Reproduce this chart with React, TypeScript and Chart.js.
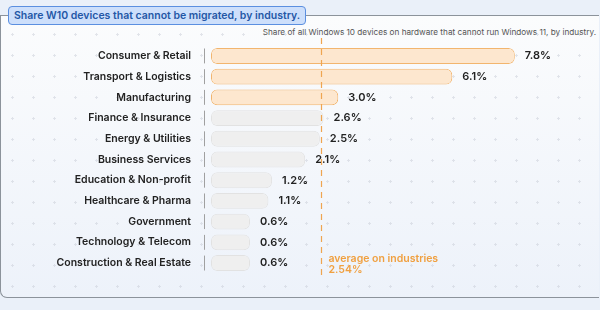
import React, { useEffect, useRef } from "react";
import { Chart, registerables } from "chart.js";

Chart.register(...registerables);

const categories = [
  "Consumer & Retail",
  "Transport & Logistics",
  "Manufacturing",
  "Finance & Insurance",
  "Energy & Utilities",
  "Business Services",
  "Education & Non-profit",
  "Healthcare & Pharma",
  "Government",
  "Technology & Telecom",
  "Construction & Real Estate",
];
const shares = [7.8, 6.1, 3.0, 2.6, 2.5, 2.1, 1.2, 1.1, 0.6, 0.6, 0.6];
const valueLabels = ["7.8%", "6.1%", "3.0%", "2.6%", "2.5%", "2.1%", "1.2%", "1.1%", "0.6%", "0.6%", "0.6%"];
const highlighted = [true, true, true, false, false, false, false, false, false, false, false];
const average = 2.54;
const averageLabel = ["average on industries", "2.54%"];
const title = "Share W10 devices that cannot be migrated, by industry.";
const subtitle = "Share of all Windows 10 devices on hardware that cannot run Windows 11, by industry.";

const FONT = "Inter, 'Noto Sans', sans-serif";
const AXIS_MIN = -0.46;

export default function App() {
  const canvasRef = useRef<HTMLCanvasElement | null>(null);

  useEffect(() => {
    document.body.style.margin = "0";
    const canvas = canvasRef.current;
    if (!canvas) return;

    const overlay = {
      id: "overlay",
      afterDatasetsDraw(chart: any) {
        const ctx = chart.ctx;
        const x = chart.scales.x;
        const y = chart.scales.y;
        const meta = chart.getDatasetMeta(0);
        ctx.save();
        // row separators left of bars
        ctx.strokeStyle = "#a0a0a0";
        ctx.lineWidth = 1;
        const step = (y.bottom - y.top) / categories.length;
        categories.forEach((_, i) => {
          const cy = y.getPixelForTick(i);
          ctx.beginPath();
          ctx.moveTo(204.5, cy - step * 0.36);
          ctx.lineTo(204.5, cy + step * 0.36);
          ctx.stroke();
        });
        // value labels
        ctx.fillStyle = "#222";
        ctx.font = `600 11px ${FONT}`;
        ctx.textAlign = "left";
        ctx.textBaseline = "middle";
        meta.data.forEach((bar: any, i: number) => {
          ctx.fillText(valueLabels[i], bar.x + 10, bar.y);
        });
        // average line
        const ax = Math.round(x.getPixelForValue(average)) + 0.5;
        ctx.strokeStyle = "#efa550";
        ctx.lineWidth = 1.2;
        ctx.setLineDash([6, 5]);
        ctx.beginPath();
        ctx.moveTo(ax, 2);
        ctx.lineTo(ax, y.bottom + 3);
        ctx.stroke();
        ctx.setLineDash([]);
        ctx.fillStyle = "#f0a040";
        ctx.font = `600 10.5px ${FONT}`;
        const ly = y.getPixelForTick(categories.length - 1);
        ctx.fillText(averageLabel[0], ax + 7, ly - 4);
        ctx.fillText(averageLabel[1], ax + 7, ly + 7);
        ctx.restore();
      },
    };

    const chart = new Chart(canvas, {
      type: "bar",
      data: {
        labels: categories,
        datasets: [
          {
            data: shares,
            base: AXIS_MIN,
            backgroundColor: highlighted.map((h) => (h ? "#fde7cf" : "#efefef")),
            borderColor: highlighted.map((h) => (h ? "#f2b56e" : "#e2e2e2")),
            borderWidth: 1,
            borderRadius: 6,
            borderSkipped: false,
            categoryPercentage: 0.8,
            barPercentage: 0.96,
          } as any,
        ],
      },
      options: {
        indexAxis: "y",
        animation: false,
        responsive: false,
        maintainAspectRatio: false,
        layout: { padding: { top: 9.6, bottom: 12.6, left: 0, right: 19 } },
        plugins: { legend: { display: false }, tooltip: { enabled: false } },
        scales: {
          x: {
            display: false,
            min: AXIS_MIN,
            max: 9.6,
          },
          y: {
            grid: { display: false, drawTicks: false },
            border: { display: false },
            ticks: {
              padding: 20,
              color: "#222",
              font: { family: FONT, size: 10.5, weight: 600 },
            },
            afterFit(scale: any) {
              scale.width = 211;
              scale.paddingTop = 0;
              scale.paddingBottom = 0;
            },
          },
        },
      },
      plugins: [overlay],
    });
    return () => chart.destroy();
  }, []);

  return (
    <div
      style={{
        position: "relative",
        width: 600,
        height: 310,
        overflow: "hidden",
        background: "#eaf0f9",
        fontFamily: FONT,
      }}
    >
      <div
        style={{
          position: "absolute",
          left: 0,
          top: 15,
          width: 598,
          height: 281,
          borderTop: "1px solid #8c939b",
          borderBottom: "1.5px solid #8c939b",
          borderLeft: "1px solid #8c939b",
          borderBottomLeftRadius: 7,
          background:
            "radial-gradient(circle, rgba(200,205,215,0.5) 1px, transparent 1.3px) 1px 8px / 21px 21px, linear-gradient(#fbfcfd, #edf2fa)",
        }}
      />
      <div
        style={{
          position: "absolute",
          left: 8,
          top: 6,
          height: 17,
          padding: "0 5px",
          lineHeight: "17px",
          background: "#cddffb",
          border: "1px solid #5b8fe0",
          borderRadius: 4,
          color: "#2457a6",
          fontWeight: 600,
          fontSize: 10.5,
          whiteSpace: "nowrap",
        }}
      >
        {title}
      </div>
      <div
        style={{
          position: "absolute",
          right: 4,
          top: 27,
          fontSize: 8.2,
          color: "#555",
          whiteSpace: "nowrap",
        }}
      >
        {subtitle}
      </div>
      <canvas
        ref={canvasRef}
        width={600}
        height={250}
        style={{ position: "absolute", left: 0, top: 36, width: 600, height: 250 }}
      />
    </div>
  );
}
